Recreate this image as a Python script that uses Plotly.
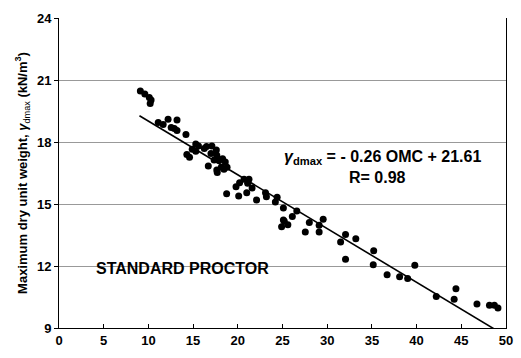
import plotly.graph_objects as go

omc = [9.1, 9.6, 10.1, 10.3, 10.2, 11.1, 11.65, 12.2, 13.2, 12.55, 12.9, 13.2, 14.2, 15.3, 15.6,
       16.5, 17.1, 17.6, 14.9, 15.3, 14.3, 14.6, 16.25, 17.0, 17.65, 17.35, 18.3, 18.6, 17.9,
       18.15, 16.7, 17.65, 17.7, 18.45, 18.8, 20.2, 20.7, 21.25, 21.1, 19.8, 21.6, 18.75, 20.1,
       21.0, 22.1, 23.1, 23.2, 24.2, 24.4, 25.1, 26.1, 26.6, 25.1, 25.2, 25.6, 24.9, 28.0, 27.55,
       29.1, 29.55, 29.1, 32.05, 33.2, 31.5, 35.2, 32.05, 35.15, 36.7, 38.1, 39.0, 39.8, 42.2,
       44.4, 44.2, 46.75, 48.15, 48.7, 49.1]
gdmax = [20.47, 20.32, 20.15, 20.03, 19.86, 18.94, 18.85, 19.10, 19.07, 18.70, 18.65, 18.56, 18.36,
         17.90, 17.81, 17.78, 17.81, 17.61, 17.65, 17.55, 17.40, 17.26, 17.68, 17.44, 17.36, 17.13,
         17.19, 17.03, 17.10, 16.78, 16.84, 16.65, 16.52, 16.68, 16.78, 16.03, 16.20, 16.20, 16.00,
         15.84, 15.78, 15.49, 15.39, 15.55, 15.19, 15.55, 15.35, 15.10, 15.33, 14.81, 14.39, 14.66,
         14.23, 14.16, 14.00, 13.90, 14.11, 13.65, 13.97, 14.26, 13.65, 13.52, 13.32, 13.16, 12.74,
         12.33, 12.06, 11.58, 11.48, 11.39, 12.04, 10.52, 10.90, 10.39, 10.16, 10.10, 10.10, 9.97]

slope = -0.26
intercept = 21.61
fit_x = [9.0, 48.9]
fit_y = [slope * x + intercept for x in fit_x]

x_ticks = [0, 5, 10, 15, 20, 25, 30, 35, 40, 45, 50]
y_ticks = [9, 12, 15, 18, 21, 24]

FONT = "Liberation Sans"

fig = go.Figure()
fig.add_trace(go.Scatter(x=fit_x, y=fit_y, mode="lines",
                         line=dict(color="black", width=1.6), cliponaxis=False,
                         showlegend=False, hoverinfo="skip"))
fig.add_trace(go.Scatter(x=omc, y=gdmax, mode="markers",
                         marker=dict(color="black", size=7), showlegend=False))

fig.add_annotation(x=24.9, y=17.25, xanchor="left",
                   text="<b><i>γ</i><sub>dmax</sub> = - 0.26 OMC + 21.61</b>",
                   showarrow=False, font=dict(family=FONT, size=16, color="black"))
fig.add_annotation(x=32.2, y=16.3, xanchor="left",
                   text="<b>R= 0.98</b>",
                   showarrow=False, font=dict(family=FONT, size=16, color="black"))
fig.add_annotation(x=3.9, y=11.9, xanchor="left",
                   text="<b>STANDARD PROCTOR</b>",
                   showarrow=False, font=dict(family=FONT, size=16, color="black"))

fig.update_layout(
    width=521, height=358,
    margin=dict(l=59, r=8, t=18, b=30),
    plot_bgcolor="white", paper_bgcolor="white",
    font=dict(family=FONT, size=13, color="black"),
    xaxis=dict(range=[0, 50], tickvals=x_ticks, ticktext=[f"<b>{v}</b>" for v in x_ticks],
               showgrid=False, zeroline=False, showline=True, linecolor="black", linewidth=1,
               ticks="inside", ticklen=4, tickcolor="black", tickfont=dict(size=13)),
    yaxis=dict(range=[9, 24], tickvals=y_ticks, ticktext=[f"<b>{v}</b>" for v in y_ticks],
               showgrid=True, gridcolor="#999999", gridwidth=1, zeroline=False,
               showline=True, mirror=True, linecolor="black", linewidth=1,
               ticks="outside", ticklen=4, tickcolor="black", tickfont=dict(size=13),
               title=dict(text="<b>Maximum dry unit weight, <i>γ</i></b><sub>dmax</sub><b> (kN/m<sup>3</sup>)</b>",
                          font=dict(size=13), standoff=6)),
)

fig.write_html("out.html")
